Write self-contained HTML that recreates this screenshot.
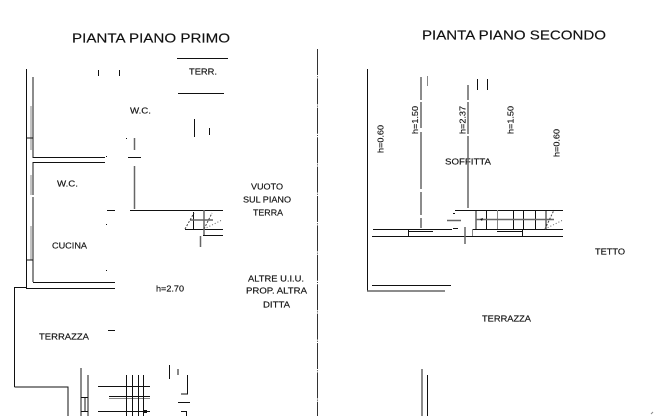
<!DOCTYPE html>
<html>
<head>
<meta charset="utf-8">
<style>
html,body{margin:0;padding:0;background:#fff;width:654px;height:416px;overflow:hidden}
svg{display:block}
text{font-family:"Liberation Sans",sans-serif;fill:#111;stroke:#111;stroke-width:.15;font-size:8px;dominant-baseline:central}
.k{stroke:#111;stroke-width:1;fill:none}
.g{stroke:#666;stroke-width:1.5;fill:none}
.t{stroke:#888;stroke-width:1;fill:none}
.d{stroke:#444;stroke-width:1;stroke-dasharray:2 1.5;fill:none}
.o{stroke:#666;stroke-width:1;stroke-dasharray:1 2;fill:none}
</style>
</head>
<body>
<svg width="654" height="416" viewBox="0 0 654 416" xmlns="http://www.w3.org/2000/svg">
<text x="72" y="38" style="font-size:13px" textLength="158" lengthAdjust="spacingAndGlyphs">PIANTA PIANO PRIMO</text>
<text x="422" y="35" style="font-size:13px" textLength="184" lengthAdjust="spacingAndGlyphs">PIANTA PIANO SECONDO</text>

<text x="189" y="72" textLength="28" lengthAdjust="spacingAndGlyphs">TERR.</text>
<text x="130" y="111" textLength="21" lengthAdjust="spacingAndGlyphs">W.C.</text>
<text x="57" y="184" textLength="21" lengthAdjust="spacingAndGlyphs">W.C.</text>
<text x="52" y="246" textLength="35" lengthAdjust="spacingAndGlyphs">CUCINA</text>
<text x="156" y="289" textLength="28" lengthAdjust="spacingAndGlyphs">h=2.70</text>
<text x="39" y="337" textLength="50" lengthAdjust="spacingAndGlyphs">TERRAZZA</text>
<text x="251" y="187" textLength="32" lengthAdjust="spacingAndGlyphs">VUOTO</text>
<text x="243" y="200" textLength="48" lengthAdjust="spacingAndGlyphs">SUL PIANO</text>
<text x="253" y="213" textLength="30" lengthAdjust="spacingAndGlyphs">TERRA</text>
<text x="248" y="279" textLength="56" lengthAdjust="spacingAndGlyphs">ALTRE U.I.U.</text>
<text x="246" y="291" textLength="61" lengthAdjust="spacingAndGlyphs">PROP. ALTRA</text>
<text x="263" y="305" textLength="27" lengthAdjust="spacingAndGlyphs">DITTA</text>

<text transform="translate(381,153) rotate(-90)" textLength="28" lengthAdjust="spacingAndGlyphs">h=0.60</text>
<text transform="translate(415.5,134) rotate(-90)" textLength="28" lengthAdjust="spacingAndGlyphs">h=1.50</text>
<text transform="translate(463,134) rotate(-90)" textLength="28" lengthAdjust="spacingAndGlyphs">h=2.37</text>
<text transform="translate(511,134) rotate(-90)" textLength="28" lengthAdjust="spacingAndGlyphs">h=1.50</text>
<text transform="translate(557,157) rotate(-90)" textLength="28" lengthAdjust="spacingAndGlyphs">h=0.60</text>
<text x="445" y="162" textLength="46" lengthAdjust="spacingAndGlyphs">SOFFITTA</text>
<text x="595" y="252" textLength="30" lengthAdjust="spacingAndGlyphs">TETTO</text>
<text x="482" y="319" textLength="49" lengthAdjust="spacingAndGlyphs">TERRAZZA</text>

<!-- divider -->
<path d="M317.5 49V416" stroke="#333" stroke-width="1" fill="none" stroke-dasharray="26 1.2 1 1.2"/>

<!-- left plan -->
<path class="k" d="M26.5 69V288.5H115"/>
<path class="k" d="M14.5 387V287.5H26.5"/>
<path class="k" d="M14.5 387H68V416"/>
<path class="g" d="M33 77V158M33 162V195M33 197V282"/>
<path class="t" d="M31 106V150M31 175V195M31 226V260"/>
<path class="k" d="M26 138H33M26 260H33"/>
<path class="k" d="M33 157.500H105M33 162.500H105M33 282.500H115"/>
<path class="k" d="M98.500 70V76M119.500 70V76"/>
<path class="k" d="M177 58.500H228M178 93.500H224"/>
<path class="k" d="M194.500 119V137M209.500 128V135"/>
<path class="g" d="M134.500 138V150"/>
<path class="k" d="M128 157.500H141M126 138.500h1M106 156.500h1M106 224.500h1M106 270.500h1"/>
<path class="g" d="M134.500 166V209"/>
<path class="k" d="M130 210.500H223M107 210.500H115"/>
<path class="k" d="M185 229.500H223M203 235.500H223M193.500 212V229"/>
<path class="g" d="M204 210V235M190 220H213M200.500 236V247"/>
<path class="d" d="M185 229L194 213M204 229L212 213"/>
<path class="o" d="M204 229L222 220"/>
<path class="k" d="M108 330.500H115"/>

<!-- left stairs -->
<path class="g" d="M81 368V416M88 375V416M85 397V411"/>
<path class="k" d="M81 397.500H88M81 411.500H88"/>
<path class="k" d="M98 386.500H150M109 396.500H150M98 411.500H150"/>
<path class="t" d="M109 398.500H150"/>
<path class="k" d="M126.500 375V416M132.500 375V416M138.500 375V416M143.500 375V416"/>
<path d="M144 410h3v3h-3z" fill="#111"/>
<path class="k" d="M169.500 365V379M178 369V375M187.500 375V394H181M178 402.500H190M181 411.500H186.500V416"/>

<!-- right plan -->
<path class="k" d="M367.500 69V291"/>
<path class="g" d="M367 291H445"/>
<path class="k" d="M372 285.500H451"/>
<path class="g" d="M421 77V100M421 102V128M421 132V189M421 192V215M421 218V228"/>
<path class="g" d="M468 85V100M468 102V134M468 136V208"/>
<path class="t" d="M427.500 76V86"/>
<path class="k" d="M477.500 79V90M487.500 79V90"/>
<path class="k" d="M455 210.500H563"/>
<path class="k" d="M373 229.500H452M473 229.500H563M372 236.500H563"/>
<path class="k" d="M408.500 229V236M522.500 229V236M408 231.500H433M497 231.500H522"/>
<path class="t" d="M472.500 229V236"/>
<path class="k" d="M476 210V229M486.500 210V229M513.500 210V229M523.500 210V229M535.500 210V229M546 210V229"/>
<path class="t" d="M497.500 210V229"/>
<path class="g" d="M476 219.500H554M465 227V244M447 220.500H461"/>
<path d="M480 219l3-1-1 3z" fill="#111"/>
<path class="d" d="M545 229L554 210"/>
<path class="o" d="M545 229L563 220"/>
<path class="k" d="M453 213.500h2M453 228.500h5"/>

<path class="g" d="M422 369V416"/>
<path class="k" d="M427.500 375V416"/>
<path d="M651 414L653 412" stroke="#888" stroke-width="1" fill="none"/>
</svg>
</body>
</html>
